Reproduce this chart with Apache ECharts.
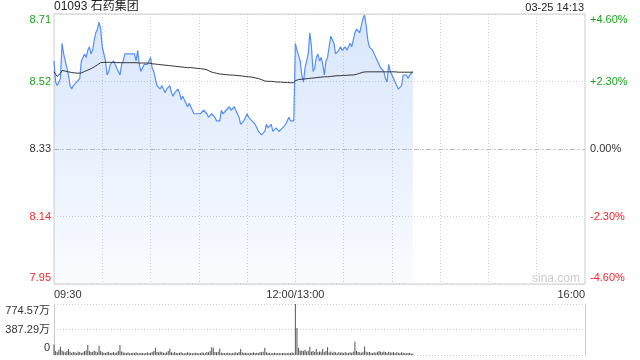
<!DOCTYPE html>
<html><head><meta charset="utf-8">
<script src="https://cdn.jsdelivr.net/npm/echarts@6/dist/echarts.min.js"></script>
<style>html,body{margin:0;padding:0;background:#fff}#c{width:640px;height:360px}</style>
</head><body><div id="c"></div>
<script>
const stockName = '01093 石药集团';
const stampText = '03-25 14:13';
const prevClose = 8.33;
const priceTicks = ['8.71', '8.52', '8.33', '8.14', '7.95'];
const pctTicks = ['+4.60%', '+2.30%', '0.00%', '-2.30%', '-4.60%'];
const timeTicks = ['09:30', '12:00/13:00', '16:00'];
const volTicks = ['774.57万', '387.29万', '0'];
const volMax = 774.57;

const prices = [
  8.58,8.52,8.51,8.51,8.53,8.63,8.60,8.58,8.56,8.54,
  8.51,8.50,8.51,8.51,8.52,8.52,8.53,8.58,8.59,8.60,
  8.59,8.61,8.62,8.60,8.61,8.64,8.66,8.67,8.69,8.67,
  8.62,8.60,8.58,8.54,8.55,8.57,8.57,8.58,8.57,8.56,
  8.55,8.54,8.57,8.58,8.60,8.60,8.60,8.60,8.60,8.60,
  8.60,8.58,8.61,8.57,8.55,8.56,8.57,8.57,8.57,8.58,
  8.59,8.56,8.55,8.53,8.51,8.51,8.50,8.51,8.50,8.49,
  8.50,8.50,8.51,8.49,8.48,8.49,8.49,8.50,8.49,8.47,
  8.48,8.48,8.46,8.45,8.46,8.45,8.44,8.43,8.43,8.43,
  8.43,8.43,8.43,8.44,8.44,8.43,8.42,8.42,8.43,8.43,
  8.42,8.41,8.41,8.41,8.44,8.43,8.43,8.44,8.44,8.45,
  8.44,8.44,8.45,8.45,8.43,8.42,8.40,8.40,8.41,8.42,
  8.43,8.42,8.42,8.41,8.41,8.40,8.39,8.38,8.38,8.37,
  8.37,8.38,8.40,8.39,8.39,8.40,8.38,8.38,8.39,8.39,
  8.38,8.38,8.39,8.39,8.40,8.40,8.42,8.41,8.41,8.41,
  8.63,8.61,8.61,8.58,8.54,8.52,8.56,8.58,8.60,8.66,
  8.62,8.55,8.56,8.59,8.60,8.58,8.59,8.57,8.54,8.58,
  8.59,8.59,8.65,8.64,8.63,8.60,8.60,8.61,8.62,8.61,
  8.61,8.62,8.61,8.62,8.63,8.62,8.62,8.66,8.67,8.67,
  8.66,8.68,8.70,8.71,8.68,8.64,8.62,8.62,8.61,8.60,
  8.59,8.58,8.58,8.56,8.56,8.55,8.53,8.52,8.57,8.55,
  8.54,8.53,8.52,8.51,8.50,8.50,8.51,8.54,8.54,8.54,
  8.53,8.54,8.54,8.55
];

const avgPrices = [
  8.549,8.542,8.536,8.535,8.545,8.553,8.552,8.551,8.550,8.549,
  8.548,8.547,8.546,8.546,8.545,8.545,8.545,8.546,8.548,8.550,
  8.552,8.554,8.556,8.558,8.560,8.563,8.566,8.569,8.572,8.575,
  8.576,8.576,8.576,8.576,8.576,8.576,8.576,8.576,8.576,8.575,
  8.575,8.575,8.575,8.575,8.575,8.575,8.575,8.575,8.575,8.575,
  8.575,8.575,8.575,8.574,8.574,8.574,8.574,8.574,8.574,8.574,
  8.573,8.572,8.572,8.571,8.571,8.570,8.570,8.569,8.569,8.568,
  8.568,8.567,8.567,8.566,8.566,8.565,8.565,8.564,8.564,8.563,
  8.563,8.562,8.562,8.561,8.561,8.561,8.560,8.560,8.560,8.559,
  8.559,8.558,8.558,8.557,8.556,8.555,8.553,8.550,8.548,8.547,
  8.546,8.545,8.544,8.543,8.543,8.542,8.542,8.541,8.541,8.540,
  8.540,8.540,8.539,8.539,8.538,8.538,8.537,8.537,8.536,8.536,
  8.535,8.535,8.534,8.534,8.533,8.532,8.531,8.530,8.529,8.527,
  8.524,8.523,8.523,8.522,8.522,8.522,8.521,8.521,8.521,8.520,
  8.520,8.520,8.520,8.519,8.519,8.519,8.519,8.518,8.518,8.518,
  8.524,8.526,8.527,8.527,8.528,8.528,8.529,8.529,8.530,8.531,
  8.531,8.531,8.532,8.532,8.533,8.533,8.534,8.534,8.535,8.535,
  8.535,8.536,8.536,8.537,8.537,8.537,8.538,8.538,8.538,8.538,
  8.539,8.539,8.539,8.539,8.540,8.540,8.540,8.541,8.542,8.543,
  8.545,8.546,8.548,8.549,8.549,8.549,8.549,8.549,8.549,8.549,
  8.549,8.549,8.549,8.549,8.549,8.549,8.549,8.549,8.549,8.549,
  8.549,8.549,8.549,8.548,8.548,8.548,8.548,8.548,8.548,8.548,
  8.548,8.548,8.548,8.548
];

const volumes = [
  160,60,45,80,125,70,55,40,60,90,
  50,35,45,40,30,55,45,30,40,60,
  70,150,60,45,50,70,55,40,140,60,
  45,35,30,40,50,30,35,45,30,40,
  60,150,55,40,35,30,40,25,30,35,
  30,40,30,25,35,30,25,30,40,30,
  35,45,60,110,50,40,55,45,35,30,
  40,60,95,40,35,45,30,30,35,40,
  30,25,30,40,35,30,25,30,35,30,
  25,30,40,35,30,45,40,60,118,110,
  45,40,50,100,35,30,25,30,35,30,
  25,30,35,40,30,45,92,40,30,35,
  30,25,35,30,40,30,35,30,45,40,
  50,112,40,30,35,25,30,35,30,25,
  30,25,30,35,25,30,35,30,40,30,
  774.57,410,110,65,70,60,75,55,65,125,
  50,60,45,90,40,55,50,92,45,60,
  117,40,55,35,50,40,30,45,35,40,
  30,45,35,30,40,35,50,204,60,45,
  40,35,50,128,55,40,45,35,30,40,
  35,45,60,50,40,55,45,35,50,40,
  35,45,30,40,35,30,40,35,30,25,
  30,35,25,20
];

// minute categories: 09:30..12:00 (merged with 13:00), 13:01..16:00
const minutes = [];
function pad(n) { return (n < 10 ? '0' : '') + n; }
for (let t = 9 * 60 + 30; t <= 12 * 60; t++) minutes.push(pad(Math.floor(t / 60)) + ':' + pad(t % 60));
for (let t = 13 * 60 + 1; t <= 16 * 60; t++) minutes.push(pad(Math.floor(t / 60)) + ':' + pad(t % 60));
const tickIdx = [0, 150, minutes.length - 1];

const pct = v => (v / prevClose - 1) * 100;
const pricePct = prices.map(pct);
const avgPct = avgPrices.map(pct);

const FONT = "'Liberation Sans', Arial, 'Noto Sans CJK SC', sans-serif";
const G = '#1aa31a', R = '#f0282d', K = '#333333';
const richY = {
  gt: { color: G, padding: [12, 0, 0, 0], fontSize: 11, fontFamily: FONT },
  g: { color: G, fontSize: 11, fontFamily: FONT },
  k: { color: K, fontSize: 11, fontFamily: FONT },
  r: { color: R, fontSize: 11, fontFamily: FONT },
  rb: { color: R, padding: [0, 0, 13, 0], fontSize: 11, fontFamily: FONT },
  vt: { color: K, padding: [14, 0, 0, 0], fontSize: 11, fontFamily: FONT },
  vm: { color: K, fontSize: 11, fontFamily: FONT },
  vb: { color: K, padding: [0, 0, 14, 0], fontSize: 11, fontFamily: FONT }
};
const styleKeys = ['gt', 'g', 'k', 'r', 'rb'];
function idxOf(v) { return Math.round((4.6 - v) / 2.3); }

const chart = echarts.init(document.getElementById('c'), null, { renderer: 'canvas' });
chart.setOption({
  animation: false,
  backgroundColor: '#fff',
  textStyle: { fontFamily: FONT },
  title: [
    { text: stockName, left: 54, top: 1, padding: 0, textStyle: { fontSize: 12, fontWeight: 'normal', color: '#222', fontFamily: FONT } },
    { text: stampText, right: 56, top: 2, padding: 0, textStyle: { fontSize: 11, fontWeight: 'normal', color: '#222', fontFamily: FONT } }
  ],
  graphic: [
    { type: 'text', left: 532, top: 273, silent: true, style: { text: 'sina.com', fill: '#cccccc', font: "12px " + FONT } }
  ],
  grid: [
    { left: 54, right: 55, top: 14, height: 270, show: true, borderColor: '#cccccc', borderWidth: 1, backgroundColor: 'transparent' },
    { left: 54, right: 55, top: 304, height: 51 }
  ],
  xAxis: [
    {
      type: 'category', gridIndex: 0, data: minutes, boundaryGap: false,
      axisLine: { show: false }, axisTick: { show: false },
      axisLabel: {
        interval: (i) => tickIdx.indexOf(i) >= 0,
        formatter: (val, i) => timeTicks[tickIdx.indexOf(i)] || '',
        color: K, fontSize: 11, margin: 5, fontFamily: FONT,
        alignMinLabel: 'left', alignMaxLabel: 'right', showMinLabel: true, showMaxLabel: true
      },
      splitLine: {
        show: true,
        interval: (i) => i % 30 === 0 && i !== 0 && i !== minutes.length - 1,
        lineStyle: { color: '#d0d0d0', type: [1, 2] }
      }
    },
    {
      type: 'category', gridIndex: 1, data: minutes, boundaryGap: false,
      axisLine: { show: false }, axisTick: { show: false }, axisLabel: { show: false },
      splitLine: { show: false }
    }
  ],
  yAxis: [
    {
      type: 'value', gridIndex: 0, min: -4.6, max: 4.6, interval: 2.3, position: 'left',
      axisLine: { show: false }, axisTick: { show: false },
      axisLabel: {
        margin: 3, showMinLabel: true, showMaxLabel: true,
        formatter: (v) => { const i = idxOf(v); return '{' + styleKeys[i] + '|' + priceTicks[i] + '}'; },
        rich: richY
      },
      splitLine: { show: true, lineStyle: { color: '#d0d0d0', type: [1, 2] } }
    },
    {
      type: 'value', gridIndex: 0, min: -4.6, max: 4.6, interval: 2.3, position: 'right',
      axisLine: { show: false }, axisTick: { show: false },
      axisLabel: {
        margin: 5, showMinLabel: true, showMaxLabel: true,
        formatter: (v) => { const i = idxOf(v); return '{' + styleKeys[i] + '|' + pctTicks[i] + '}'; },
        rich: richY
      },
      splitLine: { show: false }
    },
    {
      type: 'value', gridIndex: 1, min: 0, max: volMax, interval: volMax / 2, position: 'left',
      axisLine: { show: true, lineStyle: { color: '#cccccc' } }, axisTick: { show: false },
      axisLabel: {
        margin: 4, showMinLabel: true, showMaxLabel: true,
        formatter: (v) => {
          const i = Math.round((volMax - v) / (volMax / 2));
          return '{' + ['vt', 'vm', 'vb'][i] + '|' + volTicks[i] + '}';
        },
        rich: richY
      },
      splitLine: { show: true, lineStyle: { color: '#cccccc', type: [1, 2] } }
    },
    {
      type: 'value', gridIndex: 1, min: 0, max: volMax, position: 'right',
      axisLine: { show: true, onZero: false, lineStyle: { color: '#cccccc' } }, axisTick: { show: false },
      axisLabel: { show: false }, splitLine: { show: false }
    }
  ],
  series: [
    {
      type: 'line', name: 'price', xAxisIndex: 0, yAxisIndex: 0, data: pricePct,
      showSymbol: false, symbol: 'none', lineStyle: { color: '#5590f0', width: 1.2 },
      areaStyle: {
        origin: 'start',
        color: new echarts.graphic.LinearGradient(0, 0, 0, 1, [
          { offset: 0, color: 'rgba(85,144,240,0.33)' },
          { offset: 1, color: 'rgba(85,144,240,0.04)' }
        ])
      },
      markLine: {
        silent: true, symbol: 'none', label: { show: false },
        lineStyle: { color: '#b8b8b8', type: [5, 3, 1, 3], width: 1 },
        data: [{ yAxis: 0 }]
      },
      z: 3
    },
    {
      type: 'line', name: 'avg', xAxisIndex: 0, yAxisIndex: 0, data: avgPct,
      showSymbol: false, symbol: 'none', lineStyle: { color: '#333333', width: 1 }, z: 4
    },
    {
      type: 'bar', name: 'vol', xAxisIndex: 1, yAxisIndex: 2, data: volumes,
      barWidth: 1, itemStyle: { color: '#555555' }
    }
  ]
});
</script>
</body></html>
